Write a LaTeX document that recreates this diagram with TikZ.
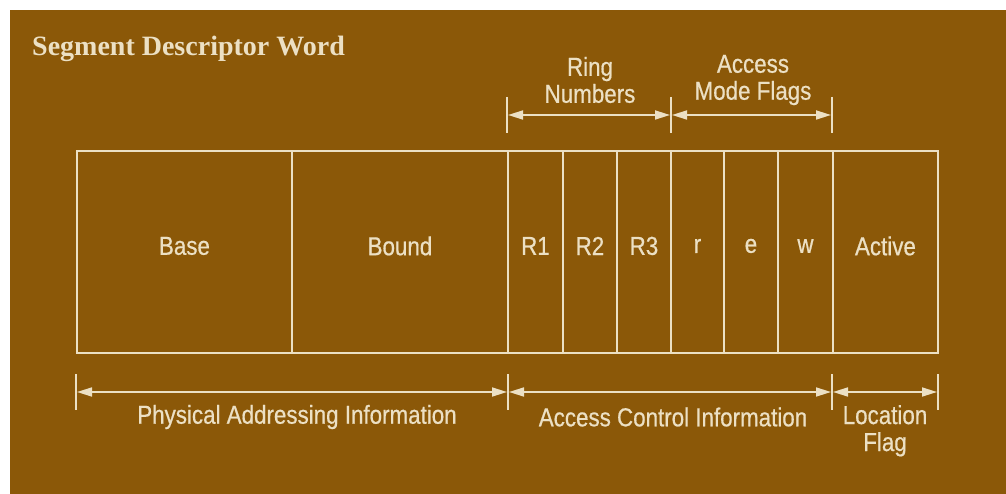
\documentclass[tikz,border=0pt]{standalone}
\usepackage{fontspec}
\setmainfont{Liberation Serif}
\newfontfamily\labelfont[FakeStretch=0.86,FakeBold=0.6]{Liberation Sans}
\usetikzlibrary{arrows.meta}
\definecolor{panel}{RGB}{139,88,8}
\definecolor{ink}{RGB}{236,224,196}

\begin{document}
\begin{tikzpicture}[x=1pt,y=-1pt,
  cell/.style={draw=ink, line width=1.9pt, minimum height=202pt, inner sep=0pt, anchor=north west},
  lbl/.style={text=ink, font=\labelfont\fontsize{26}{27}\selectfont, inner sep=0pt, align=center},
  ttl/.style={text=ink, font=\bfseries\fontsize{28}{30}\selectfont, inner sep=0pt, anchor=base west},
  tickline/.style={draw=ink, line width=1.7pt},
  dimline/.style={draw=ink, line width=1.7pt,
    {Triangle[length=15pt,width=9pt]}-{Triangle[length=15pt,width=9pt]},
    shorten <=1pt, shorten >=1pt}]

% page and panel
\useasboundingbox (0,0) rectangle (1006,494);
\fill[white] (0,0) rectangle (1006,494);
\fill[panel] (10,10) rectangle (1006,494);

% title
\node[ttl] (title) at (32,56) {Segment Descriptor Word};

% descriptor fields
\node[cell, minimum width=215pt] (base)   at (76,150)  {};
\node[cell, minimum width=216pt] (bound)  at (291,150) {};
\node[cell, minimum width=55pt]  (r1)     at (507,150) {};
\node[cell, minimum width=54pt]  (r2)     at (562,150) {};
\node[cell, minimum width=54pt]  (r3)     at (616,150) {};
\node[cell, minimum width=53pt]  (fr)     at (670,150) {};
\node[cell, minimum width=54pt]  (fe)     at (723,150) {};
\node[cell, minimum width=55pt]  (fw)     at (777,150) {};
\node[cell, minimum width=105pt] (active) at (832,150) {};

\foreach \c/\t in {base/Base, bound/Bound, r1/R1, r2/R2, r3/R3, fr/r, fe/e, fw/w, active/Active}
  \node[lbl] (\c-text) at ([yshift=6pt]\c.center) {\t};

% upper dimension marks
\coordinate (ua) at (507,115);
\coordinate (ub) at (671,115);
\coordinate (uc) at (832,115);
\foreach \p in {ua,ub,uc}
  \draw[tickline] ([yshift=18pt]\p) -- ([yshift=-18pt]\p);
\draw[dimline] (ua) -- (ub);
\draw[dimline] (ub) -- (uc);
\node[lbl] (ringlbl) at (590,80) {Ring\\Numbers};
\node[lbl] (modelbl) at (753,80) {Access\\Mode Flags};

% lower dimension marks
\coordinate (la) at (76,392);
\coordinate (lb) at (508,392);
\coordinate (lc) at (832,392);
\coordinate (ld) at (938,392);
\foreach \p in {la,lb,lc,ld}
  \draw[tickline] ([yshift=18pt]\p) -- ([yshift=-18pt]\p);
\draw[dimline] (la) -- (lb);
\draw[dimline] (lb) -- (lc);
\draw[dimline] (lc) -- (ld);
\node[lbl] (physlbl) at (297,417) {Physical Addressing Information};
\node[lbl] (acclbl)  at (673,417) {Access Control Information};
\node[lbl, anchor=north] (loclbl) at (885,405) {Location\\Flag};
\end{tikzpicture}
\end{document}
